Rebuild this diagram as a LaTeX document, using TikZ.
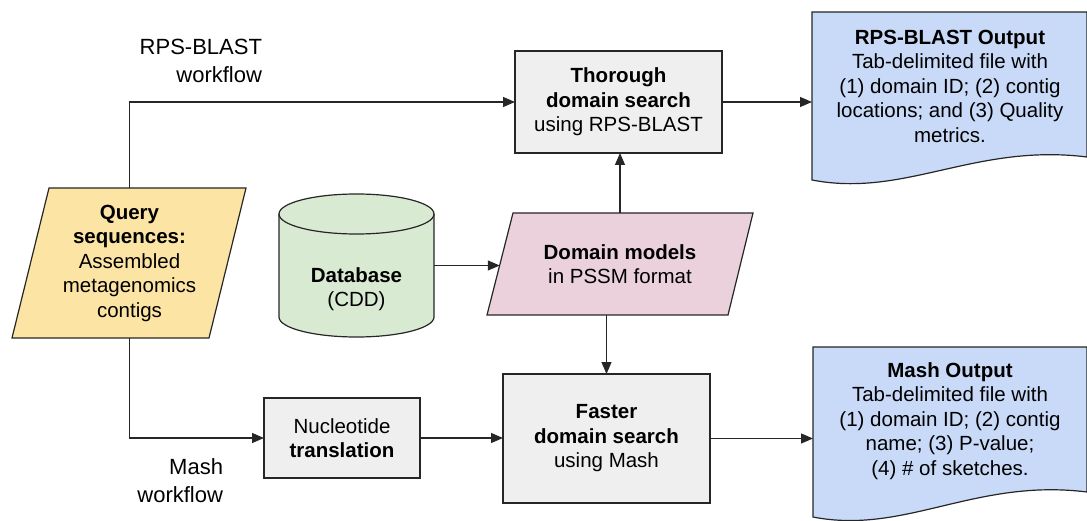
\documentclass[tikz,border=0pt]{standalone}
\usepackage{fontspec}
\setmainfont{Liberation Sans}
\usetikzlibrary{arrows.meta,calc}
\definecolor{qyellow}{HTML}{FCE4A4}
\definecolor{dbgreen}{HTML}{D9EAD3}
\definecolor{dmpink}{HTML}{EAD1DC}
\definecolor{boxgray}{HTML}{EFEFEF}
\definecolor{docblue}{HTML}{C9DAF8}
\definecolor{linec}{HTML}{262626}
\begin{document}
\begin{tikzpicture}[x=1pt,y=-1pt,
  every node/.style={inner sep=0pt,outer sep=0pt},
  txt/.style={align=center,font=\fontsize{20.5}{24.5}\selectfont,text=black},
  lbl/.style={align=right,font=\fontsize{22}{28}\selectfont,text=black},
  procbox/.style={txt,draw=linec,fill=boxgray,line width=1.2pt},
  shapeline/.style={draw=linec,line width=1.2pt},
  conn/.style={draw=linec,line width=1.2pt,-{Triangle[length=12pt,width=10pt]}}
]
\useasboundingbox (0,0) rectangle (1087,521);

% shapes drawn directly
\path[shapeline,fill=qyellow] (49,188) -- (246,188) -- (209,338) -- (12,338) -- cycle;
\path[shapeline,fill=dmpink] (513,213) -- (753,213) -- (728,315) -- (487,315) -- cycle;
\path[shapeline,fill=dbgreen] (279,214) -- (279,317)
  arc[start angle=180,end angle=360,x radius=77.5pt,y radius=20pt]
  -- (434,214)
  arc[start angle=0,end angle=180,x radius=77.5pt,y radius=20pt] -- cycle;
\draw[shapeline] (279,214) arc[start angle=180,end angle=360,x radius=77.5pt,y radius=20pt];
\path[shapeline,fill=docblue] (812,12) -- (1087,12) -- (1087,157)
  .. controls (975,143) and (905,198) .. (812,180) -- cycle;
\path[shapeline,fill=docblue] (813,347) -- (1087,347) -- (1087,492)
  .. controls (975,478) and (905,535) .. (813,517) -- cycle;

% nodes
\node[txt,minimum width=197pt,minimum height=150pt] (query) at (129.5,263)
  {\textbf{Query}\\\textbf{sequences:}\\Assembled\\metagenomics\\contigs};
\node[txt,minimum width=240.5pt,minimum height=102pt] (domain) at (620,264)
  {\textbf{Domain models}\\in PSSM format};
\node[minimum width=155pt,minimum height=143pt] (db) at (356.5,265.5) {};
\node[txt] (dbtext) at (356.5,289) {\textbf{Database}\\(CDD)};
\node[procbox,minimum width=207pt,minimum height=102pt] (thorough) at (618.5,102)
  {\textbf{Thorough}\\\textbf{domain search}\\using RPS-BLAST};
\node[procbox,minimum width=207pt,minimum height=129pt] (faster) at (606.5,438.5)
  {\textbf{Faster}\\\textbf{domain search}\\using Mash};
\node[procbox,minimum width=156pt,minimum height=80pt] (nucl) at (342,438)
  {Nucleotide\\\textbf{translation}};
\node[minimum width=275pt,minimum height=168pt] (rpsout) at (949.5,96) {};
\node[txt] (rpstext) at (950,86)
  {\textbf{RPS-BLAST Output}\\Tab-delimited file with\\(1) domain ID; (2) contig\\locations; and (3) Quality\\metrics.};
\node[minimum width=274pt,minimum height=170pt] (mashout) at (950,432) {};
\node[txt] (mashtext) at (950,421)
  {\textbf{Mash Output}\\Tab-delimited file with\\(1) domain ID; (2) contig\\name; (3) P-value;\\(4) \# of sketches.};
\node[lbl,anchor=east] (rpslbl) at (262,61) {RPS-BLAST\\workflow};
\node[lbl,anchor=east] (mashlbl) at (223,481) {Mash\\workflow};

% connectors
\draw[conn] (query.north) |- (thorough.west);
\draw[conn] (query.south) |- (nucl.west);
\draw[conn] (nucl.east) -- (nucl.east -| faster.west);
\draw[conn] (faster.east) -- (faster.east -| mashout.west);
\draw[conn] (thorough.east) -- (thorough.east -| rpsout.west);
\draw[conn] (domain.north) -- (domain.north |- thorough.south);
\draw[conn] (domain.south -| faster.north) -- (faster.north);
\draw[conn] (db.east) -- (db.east -| domain.west);
\end{tikzpicture}
\end{document}
